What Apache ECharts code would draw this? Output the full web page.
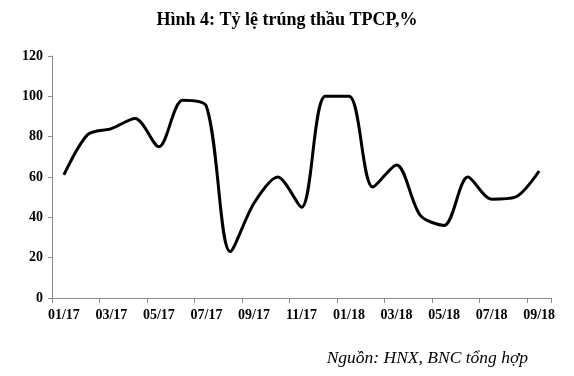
<!DOCTYPE html>
<html>
<head>
<meta charset="utf-8">
<script src="https://cdn.jsdelivr.net/npm/echarts@6/dist/echarts.min.js"></script>
<style>
  html, body { margin: 0; padding: 0; background: #fff; }
  #main { width: 574px; height: 376px; }
</style>
</head>
<body>
<div id="main"></div>
<script>
// Tháng 01/17 - 09/18
var months = [
  "01/17", "02/17", "03/17", "04/17", "05/17", "06/17", "07/17", "08/17",
  "09/17", "10/17", "11/17", "12/17", "01/18", "02/18", "03/18", "04/18",
  "05/18", "06/18", "07/18", "08/18", "09/18"
];
// Tỷ lệ trúng thầu TPCP, %
var rates = [
  61, 81, 84, 89, 75, 98, 95, 23, 47, 60, 45,
  100, 100, 55, 66, 41, 36, 60, 49, 50, 63
];
var yTicks = [0, 20, 40, 60, 80, 100, 120];

var myChart = echarts.init(document.getElementById("main"));

var serif = "'Liberation Serif', 'DejaVu Serif', serif";

var option = {
  animation: false,
  title: [
    {
      text: "Hình 4: Tỷ lệ trúng thầu TPCP,%",
      left: "center",
      top: 6,
      textStyle: {
        fontFamily: serif,
        fontWeight: "bold",
        fontSize: 18,
        color: "#000"
      }
    },
    {
      text: "Nguồn: HNX, BNC tổng hợp",
      right: 41,
      top: 344,
      textStyle: {
        fontFamily: serif,
        fontStyle: "italic",
        fontWeight: "normal",
        fontSize: 17.5,
        color: "#000"
      }
    }
  ],
  grid: {
    left: 52,
    right: 23,
    top: 56,
    bottom: 78
  },
  xAxis: {
    type: "category",
    data: months,
    boundaryGap: true,
    axisLine: { lineStyle: { color: "#8c8c8c", width: 1 } },
    axisTick: { show: true, interval: 1, length: 5, lineStyle: { color: "#8c8c8c" } },
    axisLabel: {
      interval: 1,
      margin: 10,
      fontFamily: serif,
      fontWeight: "bold",
      fontSize: 14,
      color: "#000"
    },
    splitLine: { show: false }
  },
  yAxis: {
    type: "value",
    min: yTicks[0],
    max: yTicks[yTicks.length - 1],
    interval: 20,
    axisLine: { show: true, lineStyle: { color: "#8c8c8c", width: 1 } },
    axisTick: { show: true, length: 4, lineStyle: { color: "#8c8c8c" } },
    axisLabel: {
      margin: 9,
      fontFamily: serif,
      fontWeight: "bold",
      fontSize: 14,
      color: "#000"
    },
    splitLine: { show: false }
  },
  series: [
    {
      type: "line",
      data: rates,
      smooth: 0.3,
      symbol: "none",
      lineStyle: { color: "#000", width: 3 }
    }
  ]
};

myChart.setOption(option);
</script>
</body>
</html>
